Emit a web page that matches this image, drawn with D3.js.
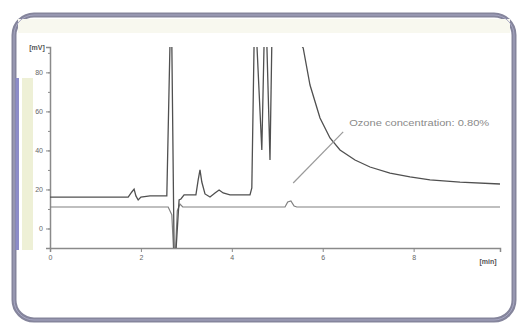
<!DOCTYPE html>
<html><head><meta charset="utf-8">
<script src="https://cdn.jsdelivr.net/npm/d3@7/dist/d3.min.js"></script>
<style>
html,body{margin:0;padding:0;background:#fff;}
svg{display:block;font-family:"Liberation Sans",Arial,sans-serif;}
</style></head>
<body>
<svg id="c" width="524" height="329"></svg>
<script>
// ---- data ----
const timeTicks = [0, 2, 4, 6, 8];
const mvTicks = [0, 20, 40, 60, 80];
const upperT = [0, 1.72, 1.80, 1.85, 1.89, 1.94, 2.00, 2.20, 2.57, 2.64, 2.68, 2.73, 2.77, 2.84, 2.88, 2.95, 3.21, 3.26, 3.30, 3.34, 3.41, 3.52, 3.63, 3.72, 3.81, 3.96, 4.40, 4.44, 4.49, 4.55, 4.66, 4.71, 4.77, 4.84, 4.88, 5.50, 5.57, 5.72, 5.94, 6.16, 6.38, 6.71, 7.04, 7.48, 7.92, 8.36, 9.02, 9.90];
const upperV = [16.1, 16.1, 18.7, 20.2, 16.7, 14.6, 16.1, 16.7, 16.7, 95, 95, -12, -12, 14.6, 15.1, 17.2, 17.2, 24.9, 30.0, 23.8, 17.7, 16.1, 18.2, 19.7, 18.2, 17.2, 17.2, 20.8, 95, 95, 40.2, 95, 95, 35.1, 95, 95, 92.5, 73.5, 56.6, 46.4, 40.2, 35.1, 31.5, 28.4, 26.4, 24.9, 23.8, 22.8];
const lowerT = [0, 2.60, 2.68, 2.72, 2.76, 2.80, 2.86, 2.92, 5.17, 5.23, 5.30, 5.37, 5.43, 9.90];
const lowerV = [11.0, 11.0, 7.0, -12, -12, 9.0, 12.5, 11.0, 11.0, 13.6, 14.1, 11.5, 11.0, 11.0];
const noteText = "Ozone concentration: 0.80%";
const noteFrom = [5.35, 23.3];
const noteTo = [6.45, 49.5];
const xUnit = "[min]";
const yUnit = "[mV]";

const svg = d3.select("#c");

// ---- frame ----
svg.append("rect").attr("x", 14).attr("y", 15).attr("width", 500).attr("height", 305)
  .attr("rx", 20).attr("fill", "#fff").attr("stroke", "#85859c").attr("stroke-width", 5);
svg.append("rect").attr("x", 18).attr("y", 19).attr("width", 492).attr("height", 14)
  .attr("fill", "#f8f8ef");
svg.append("rect").attr("x", 15.5).attr("y", 78).attr("width", 3.5).attr("height", 172)
  .attr("fill", "#8c8cc8");
svg.append("rect").attr("x", 22).attr("y", 78).attr("width", 11).attr("height", 172)
  .attr("fill", "#eef0d6");
svg.append("rect").attr("x", 14).attr("y", 15).attr("width", 500).attr("height", 305)
  .attr("rx", 20).attr("fill", "none").attr("stroke", "#a8a8c4").attr("stroke-width", 1);

// ---- scales ----
const x = d3.scaleLinear().domain([0, 9.9]).range([50, 500]);
const y = d3.scaleLinear().domain([-10, 93]).range([248, 47]);

svg.append("clipPath").attr("id", "clip").append("rect")
  .attr("x", 50).attr("y", 47).attr("width", 450).attr("height", 201);

// ---- axes ----
const gx = svg.append("g").attr("transform", "translate(0,248)")
  .call(d3.axisBottom(x).tickValues(timeTicks).tickSize(4).tickPadding(3).tickFormat(d3.format("d")));
const gy = svg.append("g").attr("transform", "translate(50,0)")
  .call(d3.axisLeft(y).tickValues(mvTicks).tickSize(4).tickPadding(3).tickFormat(d3.format("d")));
svg.append("g").attr("transform", "translate(50,0)")
  .call(d3.axisLeft(y).tickValues(d3.range(-10, 91, 10)).tickSize(2).tickFormat(""))
  .select(".domain").remove();
[gx, gy].forEach(g => {
  g.select(".domain").attr("stroke", "#8a8a8a").attr("stroke-width", 1.5);
  g.selectAll(".tick text").attr("fill", "#666").attr("font-size", 7);
});
svg.selectAll("g .tick line").attr("stroke", "#8a8a8a");

svg.append("text").attr("x", 37).attr("y", 50).attr("text-anchor", "middle")
  .attr("font-size", 7).attr("font-weight", "bold").attr("fill", "#555").text(yUnit);
svg.append("text").attr("x", 488).attr("y", 264).attr("text-anchor", "middle")
  .attr("font-size", 7).attr("font-weight", "bold").attr("fill", "#555").text(xUnit);

// ---- traces ----
const line = d3.line().x(d => x(d[0])).y(d => y(d[1]));
const plot = svg.append("g").attr("clip-path", "url(#clip)");
plot.append("path").datum(d3.zip(lowerT, lowerV)).attr("d", line)
  .attr("fill", "none").attr("stroke", "#808080").attr("stroke-width", 1.2);
plot.append("path").datum(d3.zip(upperT, upperV)).attr("d", line)
  .attr("fill", "none").attr("stroke", "#505050").attr("stroke-width", 1.3);

// ---- annotation ----
svg.append("line").attr("x1", x(noteFrom[0])).attr("y1", y(noteFrom[1]))
  .attr("x2", x(noteTo[0])).attr("y2", y(noteTo[1]))
  .attr("stroke", "#9a9a9a").attr("stroke-width", 1.2);
svg.append("text").attr("x", x(noteTo[0]) + 6).attr("y", y(noteTo[1]) - 6)
  .attr("font-size", 9.5).attr("fill", "#8a8a8a")
  .attr("textLength", 140).attr("lengthAdjust", "spacingAndGlyphs").text(noteText);
</script>
</body></html>
